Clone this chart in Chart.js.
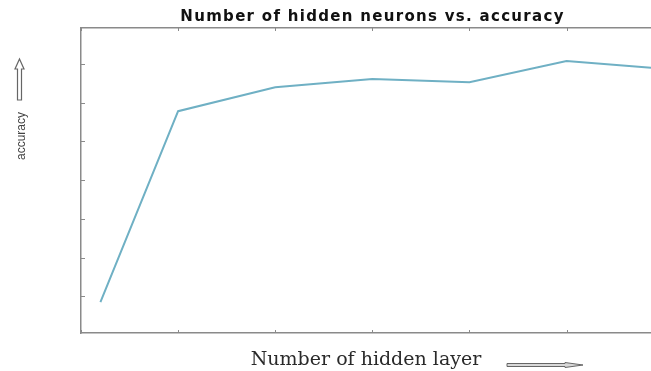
<!DOCTYPE html>
<html>
<head>
<meta charset="utf-8">
<script src="https://cdn.jsdelivr.net/npm/chart.js@4.4.1/dist/chart.umd.min.js"></script>
<style>
  html, body { margin: 0; padding: 0; background: #fff; }
  #wrap { width: 651px; height: 371px; }
</style>
</head>
<body>
<div id="wrap"><canvas id="myChart" width="651" height="371"></canvas></div>
<script>
// values (no tick labels in the original, so units are arbitrary)
var hiddenNeurons = [2, 10, 20, 30, 40, 50, 58.7];
var accuracy = [0.85, 5.78, 6.40, 6.61, 6.53, 7.08, 6.90];
var xTicks = [0, 10, 20, 30, 40, 50];
var yTicks = [1, 2, 3, 4, 5, 6, 7];
var xMin = 0, xMax = 58.7;
var yMin = 0.05, yMax = 7.93;

var axisColor = '#8a8a8a';

// the top title is drawn after the datasets (grid.z = 1 on x2), with wider letter spacing
var spacingPlugin = {
  id: 'spacing',
  afterDatasetsDraw: function(chart) { chart.ctx.letterSpacing = '1.3px'; },
  afterDraw: function(chart) { chart.ctx.letterSpacing = '0px'; }
};

// small inward ticks + hollow arrows next to the axis labels
var decorPlugin = {
  id: 'decor',
  afterDraw: function(chart) {
    var ctx = chart.ctx;
    var area = chart.chartArea;
    var sx = chart.scales.x, sy = chart.scales.y;
    ctx.save();
    ctx.letterSpacing = '0px';
    ctx.strokeStyle = axisColor;
    ctx.lineWidth = 1;
    ctx.beginPath();
    xTicks.forEach(function(v) {
      var px = Math.round(sx.getPixelForValue(v)) + 0.5;
      ctx.moveTo(px, area.bottom); ctx.lineTo(px, area.bottom - 3);
      ctx.moveTo(px, area.top); ctx.lineTo(px, area.top + 3);
    });
    yTicks.forEach(function(v) {
      var py = Math.round(sy.getPixelForValue(v)) + 0.5;
      ctx.moveTo(area.left, py); ctx.lineTo(area.left + 4, py);
    });
    ctx.stroke();

    // y label, rotated
    ctx.fillStyle = '#444';
    ctx.font = '12px "Liberation Sans", Arial, sans-serif';
    ctx.textAlign = 'center';
    ctx.textBaseline = 'middle';
    ctx.translate(22, area.top + 108);
    ctx.rotate(-Math.PI / 2);
    ctx.fillText('accuracy', 0, 0);
    ctx.setTransform(1, 0, 0, 1, 0, 0);

    // up arrow above the y label
    ctx.strokeStyle = '#666';
    ctx.lineWidth = 1.2;
    var ax = 19.5, aTop = area.top + 31, aBot = area.top + 72;
    ctx.beginPath();
    ctx.moveTo(ax, aTop);
    ctx.lineTo(ax + 4.5, aTop + 10);
    ctx.lineTo(ax + 2, aTop + 10);
    ctx.lineTo(ax + 2, aBot);
    ctx.lineTo(ax - 2, aBot);
    ctx.lineTo(ax - 2, aTop + 10);
    ctx.lineTo(ax - 4.5, aTop + 10);
    ctx.closePath();
    ctx.stroke();

    // right arrow after the x label
    var ry = area.bottom + 32, rL = 507, rR = 583;
    ctx.lineWidth = 1;
    ctx.fillStyle = '#d8d8d8';
    ctx.beginPath();
    ctx.moveTo(rR, ry);
    ctx.lineTo(rR - 18, ry - 2.5);
    ctx.lineTo(rR - 18, ry - 1.5);
    ctx.lineTo(rL, ry - 1.5);
    ctx.lineTo(rL, ry + 1.5);
    ctx.lineTo(rR - 18, ry + 1.5);
    ctx.lineTo(rR - 18, ry + 2.5);
    ctx.closePath();
    ctx.fill();
    ctx.stroke();
    ctx.restore();
  }
};

var ctx = document.getElementById('myChart').getContext('2d');
var myChart = new Chart(ctx, {
  type: 'line',
  data: {
    datasets: [{
      label: 'accuracy',
      data: hiddenNeurons.map(function(x, i) { return { x: x, y: accuracy[i] }; }),
      borderColor: '#6fb0c4',
      borderWidth: 2,
      pointRadius: 0,
      tension: 0,
      fill: false
    }]
  },
  options: {
    responsive: false,
    animation: false,
    layout: { padding: 0 },
    plugins: {
      legend: { display: false },
      tooltip: { enabled: false }
    },
    scales: {
      x: {
        type: 'linear',
        position: 'bottom',
        min: xMin, max: xMax,
        afterBuildTicks: function(s) { s.ticks = xTicks.map(function(v) { return { value: v }; }); },
        afterFit: function(s) { s.height = 38; },
        ticks: { display: false },
        grid: { display: false, drawTicks: false },
        border: { display: true, color: axisColor, width: 1.5 },
        title: {
          display: true,
          text: 'Number of hidden layer',
          color: '#2a2a2a',
          font: { family: '"DejaVu Serif", "Liberation Serif", serif', size: 19 },
          padding: { top: 0, bottom: 0 }
        }
      },
      x2: {
        type: 'linear',
        position: 'top',
        min: xMin, max: xMax,
        afterFit: function(s) { s.height = 28; },
        ticks: { display: false },
        grid: { display: false, drawTicks: false, z: 1 },
        border: { display: true, color: axisColor, width: 1.5, z: 1 },
        title: {
          display: true,
          text: '  Number of hidden neurons vs. accuracy',
          color: '#111',
          font: { family: '"DejaVu Sans", sans-serif', size: 15, weight: 'bold' },
          padding: { top: 8, bottom: 0 }
        }
      },
      y: {
        type: 'linear',
        min: yMin, max: yMax,
        afterBuildTicks: function(s) { s.ticks = yTicks.map(function(v) { return { value: v }; }); },
        afterFit: function(s) { s.width = 81; },
        ticks: { display: false },
        grid: { display: false, drawTicks: false },
        border: { display: true, color: axisColor, width: 1.5 }
      }
    }
  },
  plugins: [spacingPlugin, decorPlugin]
});
</script>
</body>
</html>
